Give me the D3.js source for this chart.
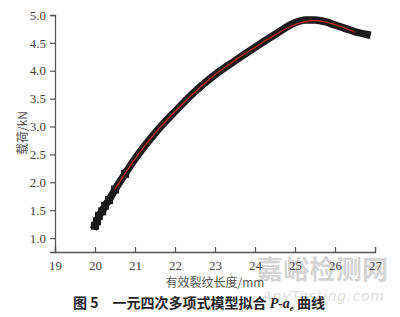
<!DOCTYPE html>
<html><head><meta charset="utf-8">
<script src="https://cdn.jsdelivr.net/npm/d3@7/dist/d3.min.js"></script>
<style>body{margin:0;background:#fff}svg{display:block}</style>
</head><body>
<svg id="c" width="400" height="317"></svg>
<script>
// measured data (crack length a_e in mm, load P in kN)
const crackLen = [20.0,20.05,20.1,20.18,20.25,20.35,20.5,20.75,21.0,21.5,22.0,22.5,23.0,23.5,24.0,24.5,25.0,25.25,25.5,25.75,26.0,26.25,26.5,26.8];
const loadMeas = [1.22,1.30,1.40,1.48,1.58,1.68,1.87,2.15,2.42,2.88,3.27,3.63,3.93,4.18,4.42,4.65,4.86,4.91,4.91,4.88,4.82,4.76,4.70,4.65];
// quartic fit curve
const fitLen = [20.5,21.0,21.5,22.0,22.5,23.0,23.5,24.0,24.5,25.0,25.5,26.0,26.5];
const fitLoad = [1.88,2.42,2.88,3.27,3.62,3.93,4.19,4.42,4.64,4.83,4.90,4.83,4.69];
const xTicks = [19,20,21,22,23,24,25,26,27];
const yTicks = [1.0,1.5,2.0,2.5,3.0,3.5,4.0,4.5,5.0];

const svg = d3.select("#c");
const x = d3.scaleLinear().domain([19,27]).range([55,375]);
const y = d3.scaleLinear().domain([0.75,5.0]).range([252,15]);
const axisCol = "#555";
const serif = "'Liberation Serif','DejaVu Serif',serif";

// watermark
svg.append("text").attr("x",257).attr("y",279).attr("font-family","'Noto Sans CJK SC'")
  .attr("font-size",26).attr("font-weight","bold").attr("fill","#d4d4d4").attr("textLength",131).text("嘉峪检测网");
svg.append("text").attr("x",262).attr("y",301).attr("font-family","'DejaVu Sans',sans-serif")
  .attr("font-style","italic").attr("font-size",14).attr("fill","#dedede").attr("textLength",122).text("AnyTesting.com");

// data band
const line = d3.line().x((d,i)=>x(crackLen[i])).y((d,i)=>y(loadMeas[i])).curve(d3.curveMonotoneX);
svg.append("path").attr("d",line(crackLen)).attr("fill","none").attr("stroke","#1a1a1a")
  .attr("stroke-width",7.5).attr("stroke-linecap","square").attr("stroke-linejoin","round");
svg.append("g").selectAll("rect").data(crackLen.slice(0,8)).join("rect")
  .attr("x",(d)=>x(d)-4).attr("y",(d,i)=>y(loadMeas[i])-4).attr("width",8).attr("height",8).attr("fill","#1a1a1a");

const fline = d3.line().x((d,i)=>x(fitLen[i])).y((d,i)=>y(fitLoad[i])).curve(d3.curveCatmullRom);
svg.append("path").attr("d",fline(fitLen)).attr("fill","none").attr("stroke","#c8282a").attr("stroke-width",1.2);

// axes
const xa = svg.append("g").attr("transform","translate(0,252)")
  .call(d3.axisBottom(x).tickValues(xTicks).tickSize(-5).tickPadding(9).tickFormat(d3.format("d")));
const ya = svg.append("g").attr("transform","translate(55,0)")
  .call(d3.axisLeft(y).tickValues(yTicks).tickSize(5).tickPadding(4).tickFormat(d3.format(".1f")));
[xa,ya].forEach(g=>{
  g.select(".domain").attr("stroke",axisCol).attr("stroke-width",1.3);
  g.selectAll(".tick line").attr("stroke",axisCol).attr("stroke-width",1.2);
  g.selectAll(".tick text").attr("fill","#444").attr("font-family",serif).attr("font-size",13);
});

// axis titles
svg.append("text").attr("transform","translate(27,133) rotate(-90)").attr("text-anchor","middle")
  .attr("font-family","'Noto Sans CJK SC'").attr("font-size",12).attr("fill","#555").text("载荷/kN");
svg.append("text").attr("x",215).attr("y",287).attr("text-anchor","middle")
  .attr("font-family","'Noto Sans CJK SC'").attr("font-size",12).attr("fill","#555").text("有效裂纹长度/mm");

// caption
const cap = svg.append("text").attr("x",73).attr("y",308).attr("font-family","'Noto Sans CJK SC'")
  .attr("font-size",14).attr("font-weight","bold").attr("fill","#222");
cap.append("tspan").text("图 5");
cap.append("tspan").attr("dx",14).text("一元四次多项式模型拟合 ");
cap.append("tspan").attr("font-family",serif).attr("font-style","italic").text("P-a");
cap.append("tspan").attr("font-family",serif).attr("font-style","italic").attr("font-size",9).attr("dy",3).text("e");
cap.append("tspan").attr("dy",-3).text(" 曲线");
</script>
</body></html>
